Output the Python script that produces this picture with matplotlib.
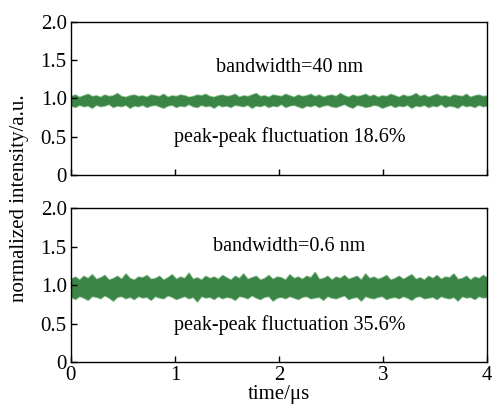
import numpy as np
import matplotlib
matplotlib.use("Agg")
import matplotlib.pyplot as plt

plt.rcParams['font.family'] = ['Liberation Serif', 'DejaVu Serif']

# envelope of the intensity trace, sampled evenly over 0..4 us
top_upper = [1.03, 1.05, 1.02, 1.04, 1.06, 1.03, 1.04, 1.02, 1.05, 1.03, 1.04, 1.07, 1.03, 1.02, 1.04, 1.05, 1.03, 1.04, 1.02, 1.05,
             1.04, 1.03, 1.06, 1.02, 1.04, 1.03, 1.05, 1.04, 1.02, 1.03, 1.05, 1.04, 1.06, 1.03, 1.02, 1.04, 1.05, 1.03, 1.04, 1.06,
             1.02, 1.04, 1.03, 1.05, 1.07, 1.03, 1.04, 1.02, 1.05, 1.04, 1.03, 1.06, 1.04, 1.02, 1.05, 1.03, 1.04, 1.06, 1.03, 1.05,
             1.02, 1.04, 1.05, 1.03, 1.07, 1.04, 1.02, 1.05, 1.03, 1.04, 1.06, 1.03, 1.05, 1.02, 1.04, 1.03, 1.06, 1.04, 1.02, 1.05,
             1.03, 1.04, 1.07, 1.03, 1.05, 1.02, 1.04, 1.06, 1.03, 1.04, 1.02, 1.05, 1.04, 1.03, 1.06, 1.02, 1.04, 1.05, 1.03, 1.04]
top_lower = [0.91, 0.89, 0.92, 0.90, 0.91, 0.88, 0.92, 0.90, 0.91, 0.93, 0.89, 0.91, 0.90, 0.92, 0.88, 0.91, 0.90, 0.92, 0.89, 0.91,
             0.92, 0.90, 0.88, 0.91, 0.92, 0.89, 0.91, 0.90, 0.93, 0.90, 0.89, 0.92, 0.90, 0.91, 0.88, 0.92, 0.90, 0.91, 0.89, 0.92,
             0.91, 0.90, 0.92, 0.88, 0.91, 0.90, 0.92, 0.89, 0.91, 0.90, 0.93, 0.89, 0.91, 0.92, 0.90, 0.88, 0.91, 0.90, 0.92, 0.89,
             0.91, 0.92, 0.90, 0.89, 0.91, 0.93, 0.90, 0.88, 0.92, 0.91, 0.89, 0.90, 0.92, 0.91, 0.88, 0.90, 0.92, 0.89, 0.91, 0.90,
             0.92, 0.88, 0.91, 0.90, 0.92, 0.89, 0.91, 0.90, 0.93, 0.89, 0.91, 0.90, 0.88, 0.92, 0.90, 0.91, 0.89, 0.92, 0.90, 0.91]
bot_upper = [1.08, 1.11, 1.07, 1.12, 1.09, 1.14, 1.08, 1.10, 1.13, 1.07, 1.09, 1.12, 1.08, 1.15, 1.09, 1.07, 1.11, 1.10, 1.13, 1.08,
             1.09, 1.12, 1.07, 1.10, 1.14, 1.08, 1.11, 1.09, 1.16, 1.08, 1.10, 1.07, 1.12, 1.09, 1.11, 1.08, 1.13, 1.10, 1.07, 1.12,
             1.09, 1.15, 1.08, 1.10, 1.12, 1.07, 1.09, 1.13, 1.08, 1.11, 1.10, 1.07, 1.14, 1.09, 1.11, 1.08, 1.12, 1.10, 1.17, 1.08,
             1.09, 1.12, 1.07, 1.11, 1.09, 1.13, 1.08, 1.10, 1.12, 1.07, 1.15, 1.09, 1.11, 1.08, 1.10, 1.13, 1.07, 1.09, 1.12, 1.08,
             1.11, 1.14, 1.08, 1.10, 1.07, 1.12, 1.09, 1.13, 1.08, 1.11, 1.10, 1.15, 1.08, 1.09, 1.12, 1.07, 1.11, 1.09, 1.13, 1.10]
bot_lower = [0.85, 0.82, 0.86, 0.84, 0.81, 0.86, 0.85, 0.83, 0.87, 0.84, 0.80, 0.85, 0.86, 0.83, 0.85, 0.82, 0.86, 0.84, 0.85, 0.81,
             0.86, 0.84, 0.83, 0.87, 0.85, 0.82, 0.84, 0.86, 0.83, 0.85, 0.79, 0.86, 0.84, 0.85, 0.82, 0.86, 0.83, 0.85, 0.84, 0.81,
             0.86, 0.85, 0.83, 0.87, 0.84, 0.82, 0.85, 0.86, 0.80, 0.84, 0.85, 0.83, 0.86, 0.84, 0.82, 0.85, 0.86, 0.83, 0.84, 0.85,
             0.81, 0.86, 0.84, 0.83, 0.85, 0.87, 0.82, 0.84, 0.85, 0.80, 0.86, 0.84, 0.83, 0.85, 0.86, 0.82, 0.84, 0.85, 0.83, 0.86,
             0.84, 0.81, 0.85, 0.86, 0.83, 0.84, 0.85, 0.82, 0.86, 0.84, 0.83, 0.85, 0.80, 0.86, 0.84, 0.85, 0.82, 0.86, 0.84, 0.85]

labels = ["bandwidth=40 nm", "bandwidth=0.6 nm"]
fluct = ["peak-peak fluctuation 18.6%", "peak-peak fluctuation 35.6%"]
label_y = [1.40, 1.50]
fluct_y = [0.50, 0.48]
yticks = [0, 0.5, 1.0, 1.5, 2.0]
ytick_labels = ["0", "0.5", "1.0", "1.5", "2.0"]
xticks = [0, 1, 2, 3, 4]

green = '#3b8646'
pale_green = '#8dbf94'

fig = plt.figure(figsize=(4.92, 4.12), dpi=100)
ax1 = fig.add_axes([0.144, 0.575, 0.846, 0.372])
ax2 = fig.add_axes([0.144, 0.121, 0.846, 0.374])

panels = [(ax1, top_upper, top_lower), (ax2, bot_upper, bot_lower)]
for i, (ax, up, lo) in enumerate(panels):
    t = np.linspace(0, 4, len(up))
    # soft outline first, then the solid trace on top
    ax.fill_between(t, lo, up, color=pale_green, linewidth=1.2, edgecolor=pale_green)
    ax.fill_between(t, lo, up, color=green, linewidth=0)
    ax.set_xlim(0, 4)
    ax.set_ylim(0, 2.0)
    ax.set_yticks(yticks)
    ax.set_yticklabels(ytick_labels)
    ax.set_xticks(xticks)
    ax.tick_params(direction='in', length=4, width=1, labelsize=15, pad=3)
    for s in ax.spines.values():
        s.set_linewidth(1)
    ax.text(2.1, label_y[i], labels[i], ha='center', va='center', fontsize=14.5)
    ax.text(2.1, fluct_y[i], fluct[i], ha='center', va='center', fontsize=14.5)

ax1.set_xticklabels([])
ax2.set_xlabel('time/\u03bcs', fontsize=15, labelpad=0)
fig.text(0.04, 0.52, 'normalized intensity/a.u.', rotation=90, ha='center', va='center', fontsize=15)

fig.savefig('out.png', dpi=100)
